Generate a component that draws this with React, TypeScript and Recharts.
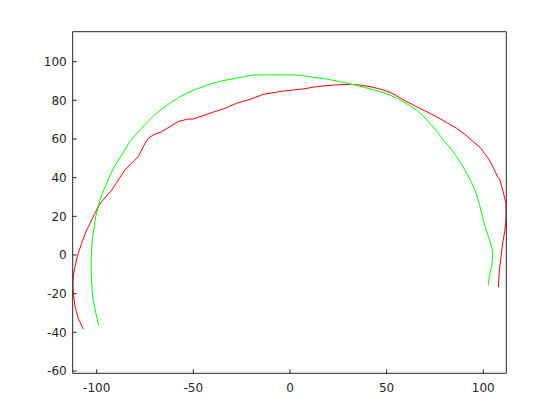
import { LineChart, Line, XAxis, YAxis } from "recharts";

// traced curves, in data units
const redX = [
  -106.9, -109.5, -111.2, -112.1, -112.3, -112.1, -111.2, -109.8, -107.8, -105.2,
  -102.6, -100.9, -99.2, -96.6, -92.2, -88.8, -85.4, -82.8, -78.5, -76.7,
  -75, -73.3, -70.7, -66.4, -62.1, -57.8, -53.4, -50, -44.9, -40,
  -34.5, -27.6, -20.7, -13.8, -3.5, 6.9, 13.8, 22.4, 31, 35.9,
  41.4, 48.3, 52, 55.2, 60, 65.5, 70.7, 75.9, 81, 86.2,
  90.5, 94.8, 98.3, 100, 102.6, 105.2, 107.4, 108.6, 110.3, 111.7,
  111.8, 111.2, 110, 109.2, 108.3, 107.8,
];
const redY = [
  -38.4, -32.8, -26.7, -19.8, -15, -11, -6, 0, 6, 12.9,
  18.1, 21.6, 25, 28.5, 33.6, 38.8, 44, 46.6, 50.9, 54.3,
  57.8, 60.4, 62.1, 63.8, 66.4, 69, 70.2, 70.4, 72.1, 73.8,
  75.5, 78.5, 80.5, 83.1, 84.8, 85.9, 87.1, 87.9, 88.3, 87.9,
  87.1, 85.4, 84, 82.3, 79.5, 76.7, 74.1, 71.5, 68.5, 65.5,
  62.4, 58.6, 55.7, 53.4, 50, 45.2, 40.5, 38.8, 32.7, 26.7,
  19.8, 12.9, 6, -0.9, -7.8, -16.7,
];

const greenX = [
  -99, -100.4, -102.1, -102.6, -102.8, -102.8, -102.3, -101.8, -100.5, -99.2,
  -98.4, -97.4, -96.2, -94.8, -93.5, -92.2, -90.6, -88.8, -86.2, -84.6,
  -82.8, -80.3, -77.6, -74, -70.7, -66.5, -62.1, -57.8, -53.4, -49,
  -44.9, -41, -36.6, -32.8, -28, -24.1, -19, -12, -4, 3.5,
  10.3, 19, 27.6, 35.9, 41.4, 46.5, 51.7, 55, 58.6, 62,
  65.5, 69, 72.4, 76, 79.3, 83, 86.2, 89, 91.4, 93.7,
  95.7, 97.1, 98.3, 99.6, 100.9, 102.5, 103.8, 104.7, 104.9, 104.3,
  103.1, 102.6,
];
const greenY = [
  -36.2, -30.2, -21.6, -14, -9.5, -0.9, 7.8, 11.2, 19.8, 25,
  28, 31, 34, 37.1, 40.1, 43.1, 46.1, 49.1, 53, 55.8,
  58.6, 61.7, 64.7, 68.5, 71.9, 75.4, 78.5, 81.3, 83.7, 85.6,
  87.1, 88.5, 89.7, 90.5, 91.4, 92.2, 93.1, 93.2, 93.2, 93.1,
  92.2, 91, 89.3, 87.4, 85.9, 84.5, 82.8, 81.2, 79.3, 77.3,
  75, 71.8, 68.1, 64, 59.5, 55.3, 50.9, 46.5, 42.3, 38,
  33.6, 29.3, 25, 19.8, 14.6, 10, 6, 2.5, -0.9, -6,
  -11.2, -15.5,
];

const xTicks = [-100, -50, 0, 50, 100];
const yTicks = [-60, -40, -20, 0, 20, 40, 60, 80, 100];

const redData = redX.map((x, i) => ({ x, y: redY[i] }));
const greenData = greenX.map((x, i) => ({ x, y: greenY[i] }));

const axisColor = "#262626";
const tickStyle = { fontSize: 12, fill: axisColor, fontFamily: "DejaVu Sans" };

export default function App() {
  return (
    <div style={{ position: "absolute", left: 0, top: 0, background: "#fff" }}>
      <LineChart
        width={560}
        height={420}
        margin={{ top: 21.7, right: 43.7, bottom: 16.7, left: 0 }}
      >
        <XAxis
          xAxisId="b"
          dataKey="x"
          type="number"
          domain={[-112.4, 111.9]}
          allowDataOverflow
          ticks={xTicks}
          height={30}
          tickSize={-4}
          tickMargin={14}
          stroke={axisColor}
          tick={tickStyle}
        />
        <XAxis
          xAxisId="t"
          dataKey="x"
          type="number"
          orientation="top"
          domain={[-112.4, 111.9]}
          allowDataOverflow
          ticks={xTicks}
          height={10}
          tickSize={-4}
          tick={false}
          stroke={axisColor}
        />
        <YAxis
          yAxisId="l"
          dataKey="y"
          type="number"
          domain={[-61.2, 115.5]}
          allowDataOverflow
          ticks={yTicks}
          width={72.7}
          tickSize={-4}
          tickMargin={10}
          stroke={axisColor}
          tick={tickStyle}
        />
        <YAxis
          yAxisId="r"
          dataKey="y"
          type="number"
          orientation="right"
          domain={[-61.2, 115.5]}
          allowDataOverflow
          ticks={yTicks}
          width={10}
          tickSize={-4}
          tick={false}
          stroke={axisColor}
        />
        <Line
          xAxisId="b"
          yAxisId="l"
          data={redData}
          dataKey="y"
          stroke="#ff0000"
          strokeWidth={1}
          dot={false}
          isAnimationActive={false}
        />
        <Line
          xAxisId="t"
          yAxisId="r"
          data={greenData}
          dataKey="y"
          stroke="#00ff00"
          strokeWidth={1}
          dot={false}
          isAnimationActive={false}
        />
      </LineChart>
    </div>
  );
}
